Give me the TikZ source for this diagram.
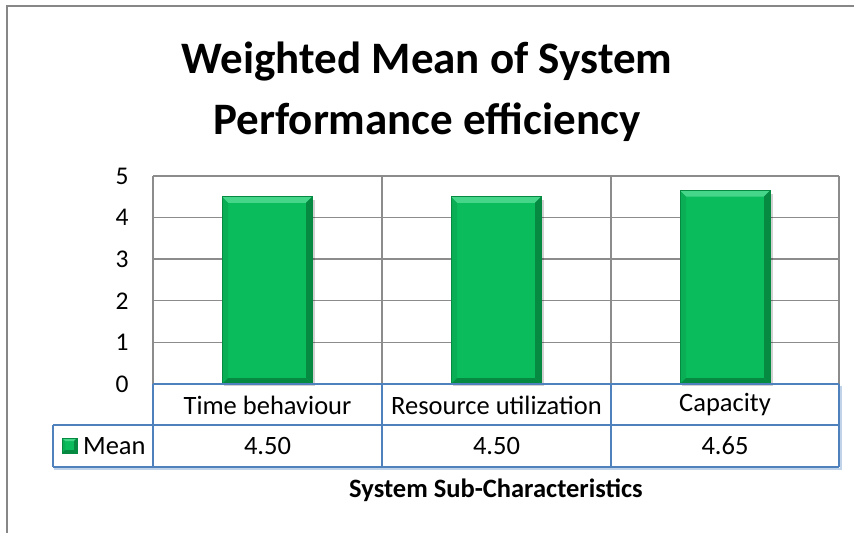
\documentclass[tikz,border=0pt]{standalone}
\usepackage{fontspec}
\setmainfont{Carlito}
\definecolor{framegray}{HTML}{878787}
\definecolor{gridgray}{HTML}{8C8C8C}
\definecolor{tableblue}{HTML}{4F81BD}
\definecolor{barmid}{HTML}{0ABC5C}
\definecolor{barlight}{HTML}{45D68A}
\definecolor{barleft}{HTML}{09AE55}
\definecolor{bardark}{HTML}{068A42}

% bar with bevelled rim: x1, ytop, x2, ybottom, depth
\newcommand{\bevelbar}[5]{%
  \fill[barmid] (#1,#2) rectangle (#3,#4);
  \fill[barlight] (#1,#2) -- (#3,#2) -- (#3-#5,#2+#5) -- (#1+#5,#2+#5) -- cycle;
  \fill[barleft] (#1,#2) -- (#1+#5,#2+#5) -- (#1+#5,#4-#5) -- (#1,#4) -- cycle;
  \fill[bardark] (#3,#2) -- (#3-#5,#2+#5) -- (#3-#5,#4-#5) -- (#3,#4) -- cycle;
  \fill[bardark] (#1,#4) -- (#1+#5,#4-#5) -- (#3-#5,#4-#5) -- (#3,#4) -- cycle;
  \draw[bardark,line width=0.4pt] (#1,#2) rectangle (#3,#4);
}

\begin{document}
\begin{tikzpicture}[x=0.5pt,y=-0.5pt,
    ticklabel/.style={anchor=east,inner sep=0pt,font=\fontsize{12.75}{14}\selectfont},
    celltext/.style={inner sep=0pt,font=\fontsize{13.25}{15}\selectfont},
    titletext/.style={inner sep=0pt,font=\bfseries\fontsize{22.5}{26}\selectfont},
    gridline/.style={gridgray,line width=0.7pt},
    tableline/.style={tableblue,line width=1pt},
    tableshade/.style={tableblue!35,line width=1pt}]
		\useasboundingbox (0,0) rectangle (854,533);
		\draw[framegray,line width=1.2pt] (7,540) -- (7,6) -- (860,6);
		\node[titletext] (title1) at (427,62) {Weighted Mean of System};
		\node[titletext] (title2) at (427,122) {Performance efficiency};
		\foreach \v in {1,2,3,4,5}
		\draw[gridline] (153,384-41.6*\v) -- (839,384-41.6*\v);
		\foreach \x in {153,382,611,839}
		\draw[gridline] (\x,176) -- (\x,384);
		\foreach \v in {0,1,2,3,4,5}
		\node[ticklabel] (tick\v) at (129,384-41.6*\v) {\v};
		\fill[black,opacity=0.18] (224,200) rectangle (315,386);
		\fill[black,opacity=0.18] (453,200) rectangle (544,386);
		\fill[black,opacity=0.18] (682,194) rectangle (773,386);
		\bevelbar{222}{196.8}{312}{384}{6}
		\bevelbar{451}{196.8}{541}{384}{6}
		\bevelbar{680}{190.6}{770}{384}{6}
		\draw[tableshade] (54,469) -- (841,469) -- (841,386);
		\draw[tableline] (153,384) -- (839,384);
		\draw[tableline] (53,425) -- (839,425);
		\draw[tableline] (53,467) -- (839,467);
		\foreach \x in {153,382,611,839}
		\draw[tableline] (\x,384) -- (\x,467);
		\draw[tableline] (53,425) -- (53,467);
		\node[celltext] (cat1) at (267.5,405) {Time behaviour};
		\node[celltext] (cat2) at (496.5,405) {Resource utilization};
		\node[celltext] (cat3) at (725,405) {Capacity};
		\node[celltext,anchor=east] (legend) at (146,446) {Mean};
		\bevelbar{62}{438}{77}{453}{3}
		\node[celltext] (val1) at (267.5,446) {4.50};
		\node[celltext] (val2) at (496.5,446) {4.50};
		\node[celltext] (val3) at (725,446) {4.65};
		\node[inner sep=0pt,font=\bfseries\fontsize{13.25}{15}\selectfont] (axistitle) at (496,490) {System Sub-Characteristics};
	\end{tikzpicture}
\end{document}
